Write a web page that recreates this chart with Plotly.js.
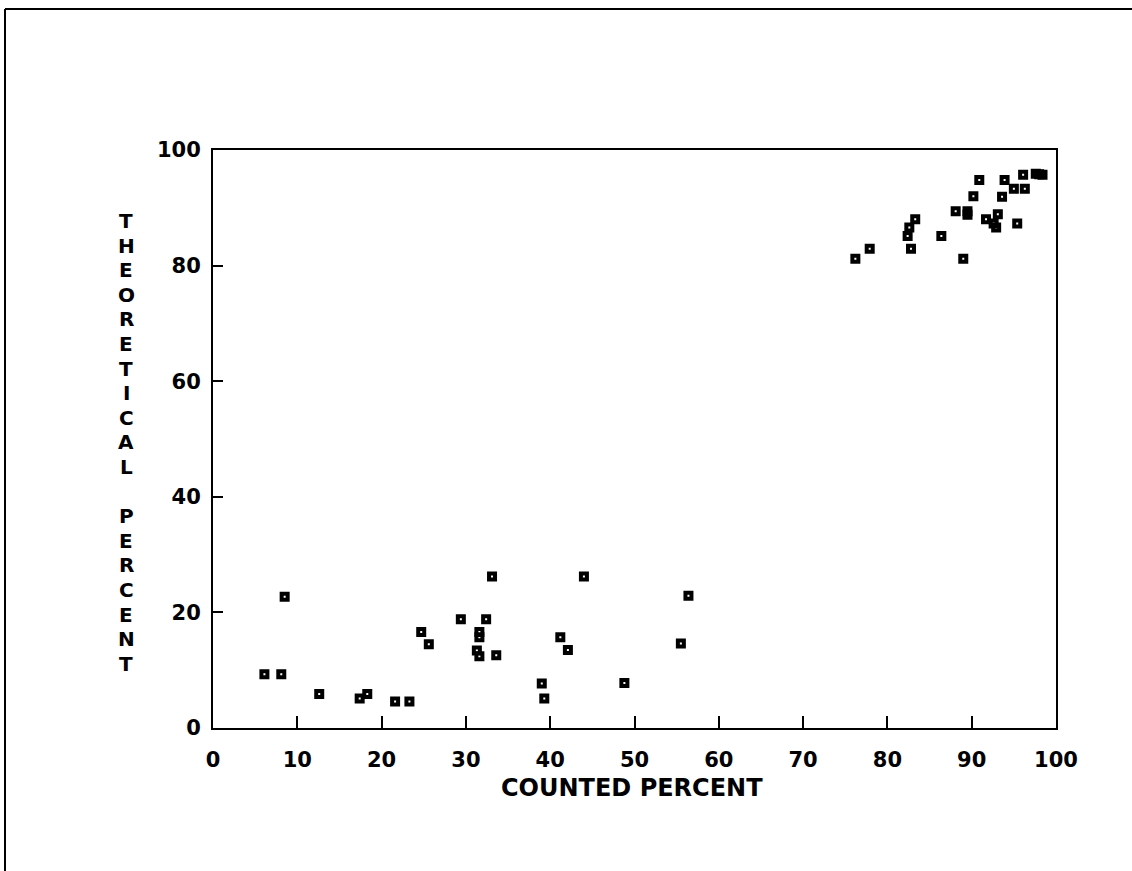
<!DOCTYPE html>
<html>
<head>
<meta charset="utf-8">
<script src="https://cdn.plot.ly/plotly-3.0.1.min.js"></script>
<style>
html,body{margin:0;padding:0;background:#fff;}
#chart{width:1132px;height:871px;}
</style>
</head>
<body>
<div id="chart"></div>
<script>
// Counted percent (x) and theoretical percent (y)
const countedPercent = [
  6.1, 8.1, 8.5, 12.6, 17.4, 18.3, 21.6, 23.3, 24.7, 25.6,
  29.4, 31.3, 31.6, 31.6, 31.6, 32.4, 33.1, 33.6,
  39.0, 39.3, 41.2, 42.1, 44.0, 48.8, 55.5, 56.4,
  76.2, 77.9, 82.4, 82.6, 83.3, 82.8, 86.4, 88.1, 89.0, 89.5,
  89.5, 90.2, 90.9, 91.7, 92.6, 92.9, 93.1, 93.6, 93.9, 95.0,
  95.4, 96.3, 96.1, 97.6, 98.0, 98.4
];
const theoreticalPercent = [
  9.3, 9.3, 22.7, 5.9, 5.1, 5.9, 4.6, 4.6, 16.6, 14.5,
  18.8, 13.4, 12.4, 15.7, 16.6, 18.8, 26.2, 12.6,
  7.7, 5.1, 15.7, 13.5, 26.2, 7.8, 14.6, 22.9,
  81.2, 82.9, 85.1, 86.6, 88.0, 82.9, 85.1, 89.4, 81.2, 89.4,
  88.8, 92.0, 94.8, 88.0, 87.3, 86.6, 88.9, 91.9, 94.8, 93.3,
  87.3, 93.3, 95.7, 95.9, 95.8, 95.7
];
const xTickValues = [0, 10, 20, 30, 40, 50, 60, 70, 80, 90, 100];
const yTickValues = [0, 20, 40, 60, 80, 100];
const xTitle = "COUNTED PERCENT";
const yTitle = "THEORETICAL PERCENT";

const W = 1132, H = 871;
const mL = 213, mR = 76, mT = 150, mB = 143;
const pw = W - mL - mR, ph = H - mT - mB;
const px = v => (v - mL) / pw;          // pixel x -> paper
const py = v => (H - mB - v) / ph;      // pixel y -> paper

const FAM = "DejaVu Sans, Verdana, sans-serif";
const tickFont = {family: FAM, size: 21, color: "#000", weight: 700};

const annotations = [];
yTitle.split("").forEach((ch, i) => {
  if (ch === " ") return;
  annotations.push({
    xref: "paper", yref: "paper",
    x: px(126), y: py(221 + i * 24.6),
    text: ch, showarrow: false,
    xanchor: "center", yanchor: "middle",
    font: {family: FAM, size: 20, color: "#000", weight: 700}
  });
});
annotations.push({
  xref: "paper", yref: "paper",
  x: px(632), y: py(788),
  text: xTitle, showarrow: false,
  xanchor: "center", yanchor: "middle",
  font: {family: FAM, size: 24, color: "#000", weight: 700}
});

const trace = {
  type: "scatter", mode: "markers",
  x: countedPercent, y: theoreticalPercent,
  marker: {symbol: "square-open", size: 6, color: "#000", line: {width: 4, color: "#000"}},
  hoverinfo: "x+y"
};

const layout = {
  width: W, height: H,
  margin: {l: mL, r: mR, t: mT, b: mB, pad: 0},
  paper_bgcolor: "#fff", plot_bgcolor: "#fff",
  showlegend: false,
  xaxis: {
    range: [0, 100], tickvals: xTickValues, ticktext: xTickValues.map(String),
    ticks: "inside", ticklen: 12, tickwidth: 2, tickcolor: "#000",
    showline: true, linewidth: 2, linecolor: "#000", mirror: true,
    showgrid: false, zeroline: false,
    tickfont: tickFont, ticklabelstandoff: 12
  },
  yaxis: {
    range: [0, 100], tickvals: yTickValues, ticktext: yTickValues.map(String),
    ticks: "inside", ticklen: 10, tickwidth: 2, tickcolor: "#000",
    showline: true, linewidth: 2, linecolor: "#000", mirror: true,
    showgrid: false, zeroline: false,
    tickfont: tickFont, ticklabelstandoff: 6
  },
  annotations: annotations,
  shapes: [
    {type: "line", xref: "paper", yref: "paper", x0: px(5), x1: px(5), y0: py(9), y1: py(871), line: {color: "#000", width: 2}},
    {type: "line", xref: "paper", yref: "paper", x0: px(5), x1: px(1132), y0: py(9), y1: py(9), line: {color: "#000", width: 2}}
  ]
};

Plotly.newPlot("chart", [trace], layout, {displayModeBar: false, staticPlot: true});
</script>
</body>
</html>
